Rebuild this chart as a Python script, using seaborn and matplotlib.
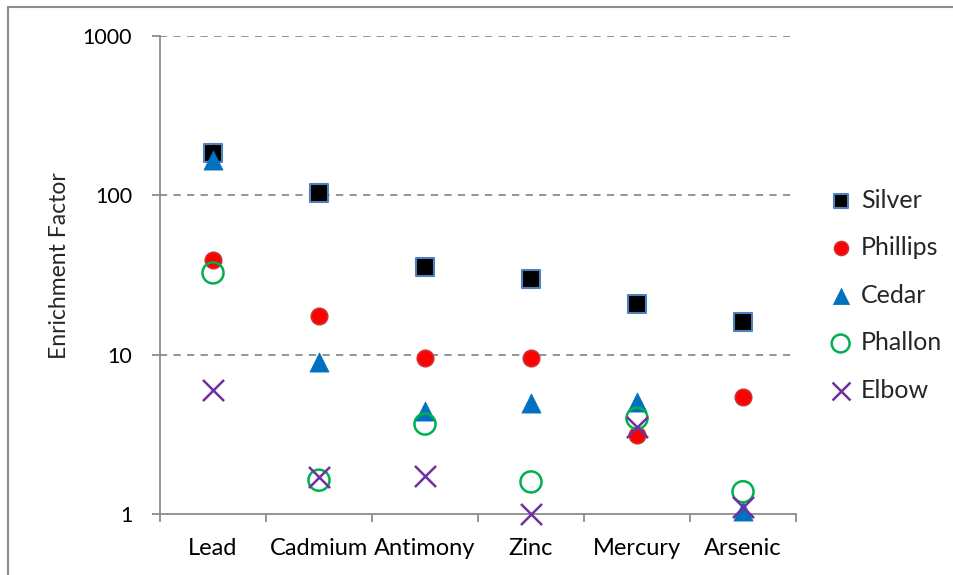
import matplotlib
matplotlib.use("Agg")
import matplotlib.pyplot as plt
import seaborn as sns
import pandas as pd
import numpy as np
from matplotlib.patches import Rectangle
from matplotlib.ticker import FixedLocator, NullFormatter

# ---- data ----
metals = ["Lead", "Cadmium", "Antimony", "Zinc", "Mercury", "Arsenic"]
silver = [184, 103, 35.5, 29.9, 20.8, 16.0]
phillips = [39.3, 17.5, 9.5, 9.5, 3.13, 5.4]
cedar = [167, 9.0, 4.43, 4.97, 5.07, 1.05]
phallon = [32.6, 1.63, 3.67, 1.59, 3.99, 1.38]
elbow = [6.0, 1.7, 1.73, 1.0, 3.53, 1.11]
sites = ["Silver", "Phillips", "Cedar", "Phallon", "Elbow"]
y_ticks = [1, 10, 100, 1000]

series = {"Silver": silver, "Phillips": phillips, "Cedar": cedar,
          "Phallon": phallon, "Elbow": elbow}
df = pd.DataFrame([{"Metal": m, "Site": s, "EF": v}
                   for s in sites for m, v in zip(metals, series[s])])

sns.set_style("white")
plt.rcParams["font.family"] = ["Lato", "DejaVu Sans"]

fig = plt.figure(figsize=(9.54, 5.75), dpi=100)
ax = fig.add_axes([160/954, 1-514/575, 636/954, 478/575])

styles = {
    "Silver":  dict(marker="s", s=150, color="black", edgecolor="#4F81BD", linewidth=1.5),
    "Phillips": dict(marker="o", s=140, color="#FF0000", edgecolor="#D03030", linewidth=1.2),
    "Cedar":   dict(marker="^", s=190, color="#0070C0", edgecolor="#0070C0", linewidth=0.5),
    "Phallon": dict(marker="o", s=230, facecolor="none", edgecolor="#00B050", linewidth=1.8),
    "Elbow":   dict(marker="x", s=230, color="#7030A0", linewidth=1.8),
}
for s in sites:
    sub = df[df["Site"] == s]
    sns.scatterplot(data=sub, x="Metal", y="EF", ax=ax, label=s, zorder=3,
                    clip_on=False, **styles[s])

ax.set_yscale("log")
ax.set_ylim(1, 1000)
ax.set_xlim(-0.5, len(metals) - 0.5)
ax.set_yticks(y_ticks)
ax.set_yticklabels([str(t) for t in y_ticks])
ax.yaxis.set_minor_locator(FixedLocator([]))
ax.set_xticks(range(len(metals)))
ax.set_xticklabels(metals)
ax.xaxis.set_minor_locator(FixedLocator(np.arange(-0.5, len(metals), 1.0)))
ax.xaxis.set_minor_formatter(NullFormatter())
ax.tick_params(axis="x", which="major", length=0, pad=17, labelsize=17, colors="black")
ax.tick_params(axis="x", which="minor", length=6, width=1.3, color="#8C8C8C", direction="out", bottom=True)
ax.tick_params(axis="y", which="major", length=6, width=1.3, color="#8C8C8C", direction="out",
               left=True, pad=14, labelsize=15.5, labelcolor="black")

for y in [10, 100, 1000]:
    ax.axhline(y, color="#8C8C8C", linestyle=(0, (4, 3.5)), linewidth=1.3, zorder=1)

for sp in ["top", "right"]:
    ax.spines[sp].set_visible(False)
for sp in ["left", "bottom"]:
    ax.spines[sp].set_color("#8C8C8C")
    ax.spines[sp].set_linewidth(1.3)

ax.set_xlabel("")
ax.set_ylabel("Enrichment Factor", fontsize=16.5)
ax.yaxis.set_label_coords(-0.142, 0.519)

leg = ax.legend(loc="upper left", bbox_to_anchor=(1.025, 0.707), frameon=False,
                fontsize=18, labelspacing=0.98, handletextpad=0.15,
                handlelength=1.3, borderpad=0, markerscale=0.85)

fig.patches.append(Rectangle((8/954, -0.05), 1.1, 1 - 7/575 + 0.05, transform=fig.transFigure,
                             fill=False, edgecolor="#8C8C8C", linewidth=1.5))

fig.savefig("out.png", dpi=100)
